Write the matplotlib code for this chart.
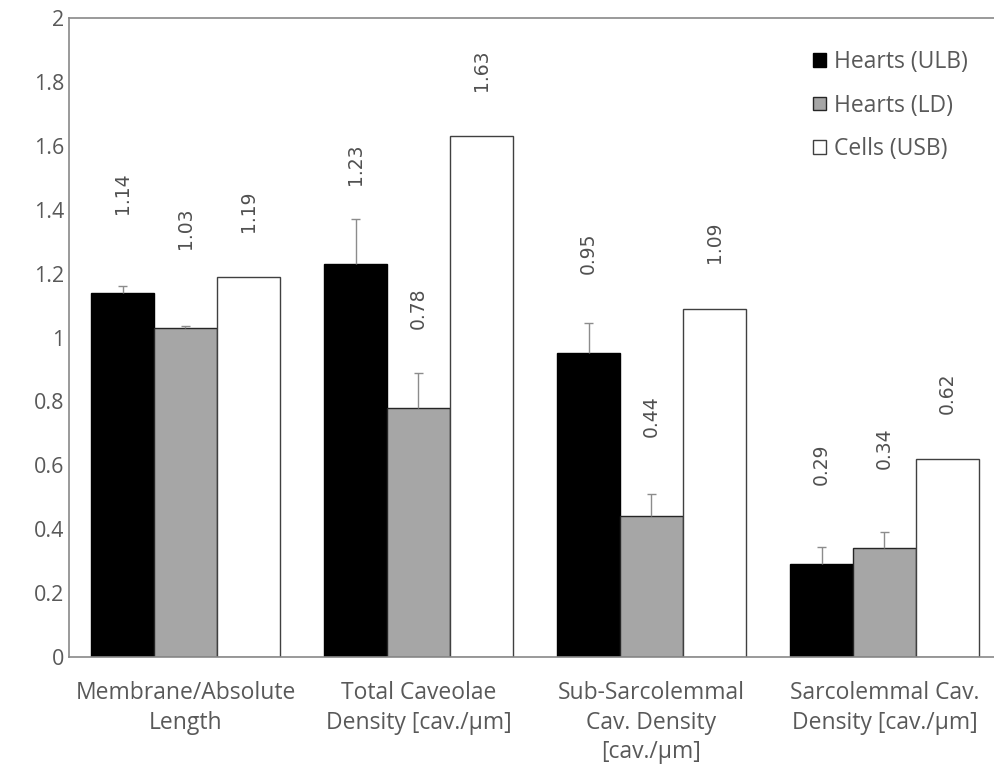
import matplotlib
matplotlib.use("Agg")
import matplotlib.pyplot as plt
import numpy as np

categories = ["Membrane/Absolute\nLength", "Total Caveolae\nDensity [cav./\u00b5m]",
              "Sub-Sarcolemmal\nCav. Density\n[cav./\u00b5m]", "Sarcolemmal Cav.\nDensity [cav./\u00b5m]"]
series_names = ["Hearts (ULB)", "Hearts (LD)", "Cells (USB)"]
ulb = [1.14, 1.23, 0.95, 0.29]
ld = [1.03, 0.78, 0.44, 0.34]
usb = [1.19, 1.63, 1.09, 0.62]
ulb_err = [0.02, 0.14, 0.095, 0.055]
ld_err = [0.005, 0.11, 0.07, 0.05]
usb_err = [0, 0, 0, 0]
yticks = [0, 0.2, 0.4, 0.6, 0.8, 1, 1.2, 1.4, 1.6, 1.8, 2]
ytick_labels = ["0", "0.2", "0.4", "0.6", "0.8", "1", "1.2", "1.4", "1.6", "1.8", "2"]

W, H = 995, 772
fig = plt.figure(figsize=(W / 100, H / 100), dpi=100)
ax = fig.add_axes([69 / W, 115 / H, 932 / W, (657 - 18) / H])

tick_col = "#595959"
font = ["Open Sans", "DejaVu Sans"]

x = np.arange(len(categories))
bw = 0.27
cap_half = 0.019
values = [ulb, ld, usb]
errs = [ulb_err, ld_err, usb_err]
faces = ["#000000", "#A6A6A6", "#FFFFFF"]
edges = ["#000000", "#262626", "#404040"]
label_off = [100, 100, 66]  # pixel offset of label centre above bar top

for i, (vals, er, fc, ec) in enumerate(zip(values, errs, faces, edges)):
    pos = x + (i - 1) * bw
    ax.bar(pos, vals, width=bw, color=fc, edgecolor=ec, linewidth=1.0,
           label=series_names[i], zorder=2)
    vals_a = np.array(vals)
    er_a = np.array(er)
    m = er_a > 0
    if m.any():
        ax.vlines(pos[m], vals_a[m], vals_a[m] + er_a[m], colors="#8C8C8C", linewidth=1.0, zorder=3)
        ax.hlines(vals_a[m] + er_a[m], pos[m] - cap_half, pos[m] + cap_half,
                  colors="#8C8C8C", linewidth=1.0, zorder=3)
    for p, v in zip(pos, vals):
        ax.annotate(f"{v:.2f}", xy=(p, v), xytext=(0, label_off[i] * 0.72),
                    textcoords="offset points", rotation=90, ha="center", va="center",
                    fontsize=13.5, color="#505050", family="DejaVu Sans")

ax.set_xlim(-0.5, len(categories) - 0.5)
ax.set_ylim(0, 2)
ax.set_yticks(yticks)
ax.set_yticklabels(ytick_labels, family=font, fontsize=15.5, color=tick_col)
ax.set_xticks(x)
ax.set_xticklabels(categories, family=font, fontsize=16.5, color=tick_col, linespacing=1.33)
ax.tick_params(axis="both", length=0)
ax.tick_params(axis="y", pad=3.5)
ax.tick_params(axis="x", pad=17)

for s in ["left", "bottom", "top"]:
    ax.spines[s].set_color("#898989")
    ax.spines[s].set_linewidth(1.2)
ax.spines["right"].set_visible(False)

leg = ax.legend(loc="upper left", bbox_to_anchor=((804 - 69) / 932, 1 - 23 / 639),
                frameon=False, prop={"family": font, "size": 16.5},
                handlelength=0.55, handleheight=0.55, handletextpad=0.35,
                labelspacing=0.85, borderaxespad=0)
for t in leg.get_texts():
    t.set_color(tick_col)

fig.savefig("out.png", dpi=100)
